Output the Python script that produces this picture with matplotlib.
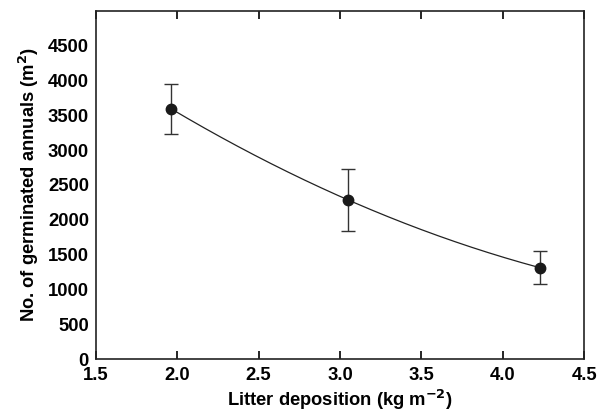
import numpy as np
import matplotlib
matplotlib.use('Agg')
from matplotlib import pyplot as plt

plt.rcParams['font.family'] = ['Liberation Sans', 'DejaVu Sans']
plt.rcParams['font.weight'] = 'bold'

litter = [1.96, 3.05, 4.23]
germinated = [3596, 2284, 1310]
err = [360, 445, 240]

xticks = [1.5, 2.0, 2.5, 3.0, 3.5, 4.0, 4.5]
yticks = [0, 500, 1000, 1500, 2000, 2500, 3000, 3500, 4000, 4500]

fig = plt.figure(figsize=(6.11, 4.16), dpi=100)
ax = fig.add_axes([0.157, 0.137, 0.799, 0.837])

# fitted curve through the means
coef = np.polyfit(litter, germinated, 2)
xs = np.linspace(litter[0], litter[-1], 200)
ax.plot(xs, np.polyval(coef, xs), color='#222222', lw=0.9)

ax.errorbar(litter, germinated, yerr=err, fmt='o', color='#1a1a1a', ms=7.5,
            ecolor='#333333', elinewidth=1.0, capsize=5, capthick=1.0)

ax.set_xlim(1.5, 4.5)
ax.set_ylim(0, 5000)
ax.set_xticks(xticks)
ax.set_xticklabels(['%.1f' % v for v in xticks])
ax.set_yticks(yticks)
ax.tick_params(axis='x', direction='in', top=True, length=6, width=1.2,
               labelsize=13.3, pad=5.5)
ax.tick_params(axis='y', length=0, labelsize=13.3, pad=5)
for s in ax.spines.values():
    s.set_linewidth(1.2)
    s.set_color('#222222')

ax.set_xlabel('Litter deposition (kg m$^{\\mathbf{-2}}$)', fontsize=13.2,
              fontweight='bold', labelpad=3)
ax.set_ylabel('No. of germinated annuals (m$^{\\mathbf{2}}$)', fontsize=13.2,
              fontweight='bold', labelpad=5)

fig.savefig('out.png', dpi=100)
